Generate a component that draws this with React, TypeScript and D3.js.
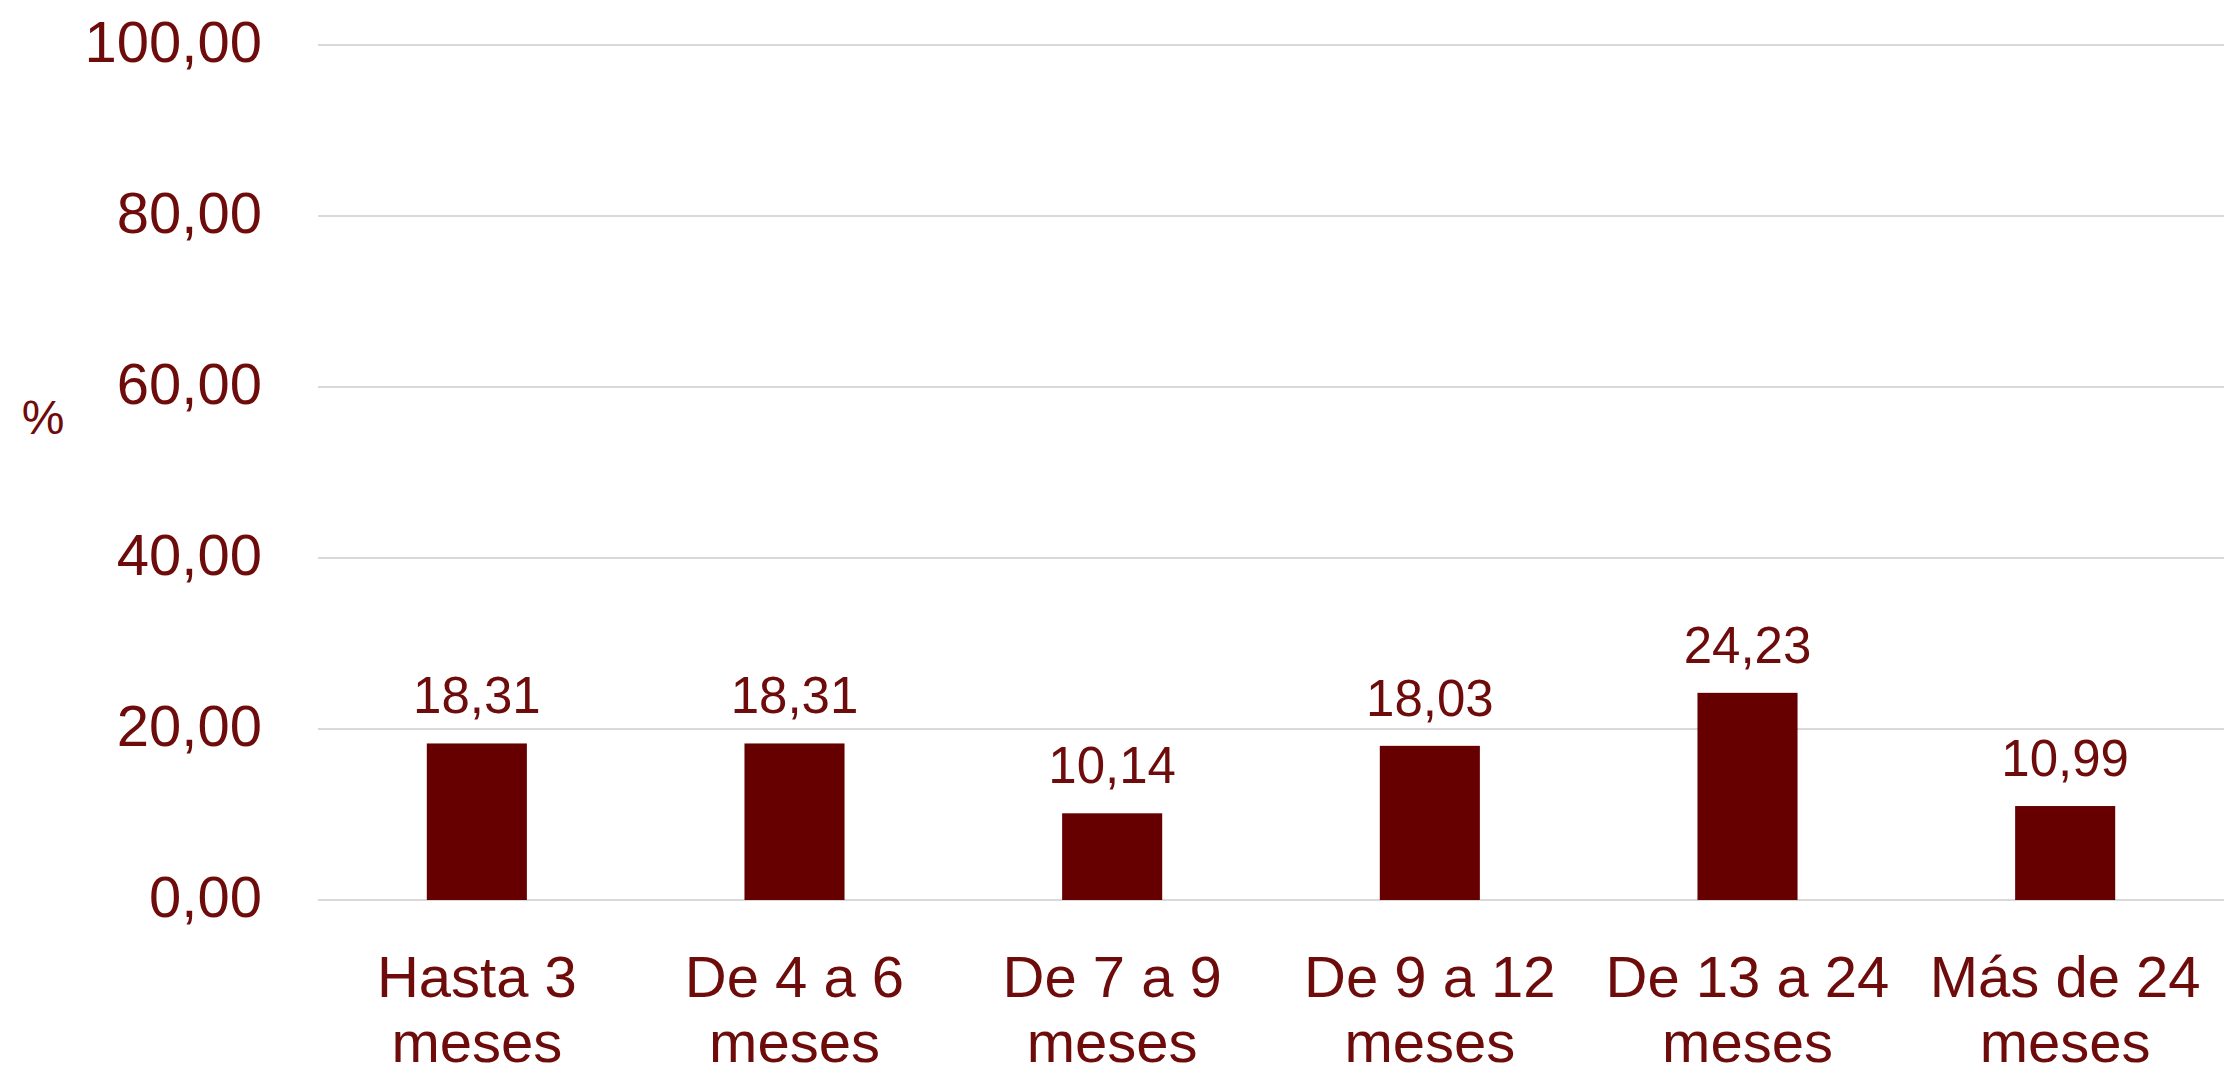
import React from "react";
import * as d3 from "d3";

const categories = ["Hasta 3 meses", "De 4 a 6 meses", "De 7 a 9 meses", "De 9 a 12 meses", "De 13 a 24 meses", "Más de 24 meses"];
const values = [18.31, 18.31, 10.14, 18.03, 24.23, 10.99];
const yTicks = [0, 20, 40, 60, 80, 100];
const yAxisLabel = "%";

const W = 2224;
const H = 1072;
const TEXT = "#6e0b0b";
const BAR = "#660000";
const GRID = "#d9d9d9";
const FONT = "'Liberation Sans', Arial, sans-serif";

const locale = d3.formatLocale({ decimal: ",", thousands: ".", grouping: [3], currency: ["", "€"] });
const fmt = locale.format(".2f");

export default function App() {
  const x = d3.scaleBand<string>().domain(categories).range([318, W]).paddingInner(0.685).paddingOuter(0.3425);
  const y = d3.scaleLinear().domain([0, 100]).range([900, 45]);

  return (
    <div style={{ position: "fixed", left: 0, top: 0, width: W, height: H, background: "#fff" }}>
      <svg width={W} height={H} style={{ display: "block" }}>
        <rect x={0} y={0} width={W} height={H} fill="#fff" />
        {yTicks.map((t) => (
          <g key={t}>
            <line x1={318} x2={W} y1={y(t)} y2={y(t)} stroke={GRID} strokeWidth={2} />
            <text x={262} y={y(t) + 17} textAnchor="end" fontFamily={FONT} fontSize={58} fill={TEXT}>
              {fmt(t)}
            </text>
          </g>
        ))}
        <text x={43} y={434} textAnchor="middle" fontFamily={FONT} fontSize={48} fill={TEXT}>
          {yAxisLabel}
        </text>
        {categories.map((c, i) => {
          const v = values[i];
          const bx = x(c)!;
          const bw = x.bandwidth();
          const cx = bx + bw / 2;
          const idx = c.lastIndexOf(" ");
          const line1 = c.slice(0, idx);
          const line2 = c.slice(idx + 1);
          return (
            <g key={c}>
              <rect x={bx} y={y(v)} width={bw} height={y(0) - y(v)} fill={BAR} />
              <text x={cx} y={y(v) - 30} textAnchor="middle" fontFamily={FONT} fontSize={51} fill={TEXT}>
                {fmt(v)}
              </text>
              <text x={cx} y={997} textAnchor="middle" fontFamily={FONT} fontSize={58} fill={TEXT}>
                {line1}
              </text>
              <text x={cx} y={1062} textAnchor="middle" fontFamily={FONT} fontSize={58} fill={TEXT}>
                {line2}
              </text>
            </g>
          );
        })}
      </svg>
    </div>
  );
}
